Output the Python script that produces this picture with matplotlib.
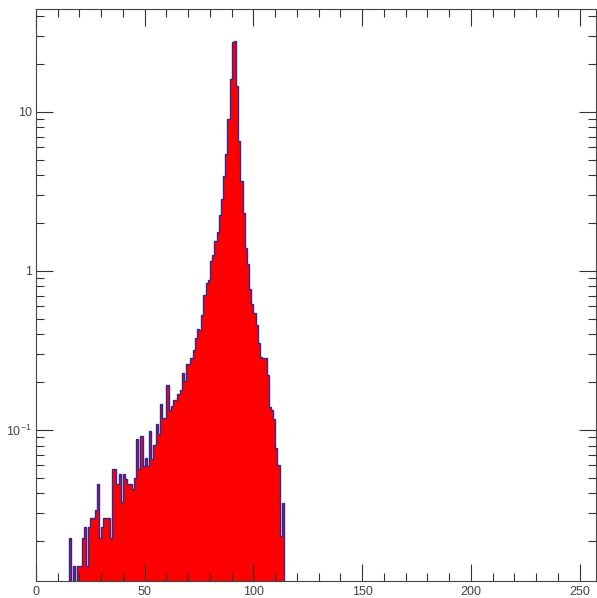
import numpy as np
import matplotlib
matplotlib.use("Agg")
import matplotlib.pyplot as plt
from matplotlib.ticker import MultipleLocator, FixedLocator, FixedFormatter, LogLocator, NullFormatter

plt.rcParams['font.family'] = ['Liberation Sans', 'DejaVu Sans']
plt.rcParams['mathtext.fontset'] = 'custom'
plt.rcParams['mathtext.rm'] = 'Liberation Sans'

# histogram: one bin per unit, first bin starts at 15
bin_start = 15
values = [
    0.021, 0, 0.014, 0, 0.014, 0.014, 0.021, 0.0245, 0.014, 0.0245,          # 15-24
    0.028, 0.028, 0.0317, 0.046, 0.021, 0.0247, 0.028, 0.028, 0.028, 0.021,   # 25-34
    0.0566, 0.0566, 0.0456, 0.0527, 0.0353, 0.0527, 0.0491, 0.0456, 0.0456, 0.0424,  # 35-44
    0.0497, 0.0883, 0.0566, 0.0917, 0.0594, 0.067, 0.0594, 0.0987, 0.0661, 0.0802,  # 45-54
    0.1086, 0.095, 0.147, 0.1197, 0.1197, 0.192, 0.133, 0.1416, 0.1545, 0.1545,    # 55-64
    0.168, 0.1786, 0.227, 0.203, 0.259, 0.259, 0.283, 0.32, 0.381, 0.434,          # 65-74
    0.424, 0.526, 0.706, 0.846, 0.878, 1.156, 1.255, 1.545, 1.758, 2.24,           # 75-84
    2.85, 3.96, 5.47, 9.0, 16.1, 27.3, 28.0, 14.5, 6.57, 3.68,                     # 85-94
    2.31, 1.40, 1.10, 0.767, 0.618, 0.548, 0.456, 0.351, 0.29, 0.285,              # 95-104
    0.285, 0.221, 0.140, 0.1336, 0.117, 0.0775, 0.06, 0.0216, 0.035,               # 105-113
]
edges = np.arange(bin_start, bin_start + len(values) + 1)

ytick_vals = [0.1, 1, 10]
ytick_labels = ['10$^{-1}$', '1', '10']

fig = plt.figure(figsize=(5.97, 5.98), dpi=100)
ax = fig.add_axes([36/597, 17/598, 560/597, 572/598])
ax.set_yscale('log')

v = np.array(values, dtype=float)
v_plot = np.where(v > 0, v, 1e-4)
ax.stairs(v_plot, edges, baseline=1e-4, fill=True, color='red', lw=0)
ax.stairs(v_plot, edges, baseline=1e-4, color='#2a2a9a', lw=1.0)

ax.set_xlim(0, 257.5)
ax.set_ylim(0.01127, 44.3)

ax.xaxis.set_major_locator(MultipleLocator(50))
ax.xaxis.set_minor_locator(MultipleLocator(10))
ax.yaxis.set_major_locator(FixedLocator(ytick_vals))
ax.yaxis.set_major_formatter(FixedFormatter(ytick_labels))
ax.yaxis.set_minor_locator(LogLocator(base=10, subs=np.arange(2, 10)))
ax.yaxis.set_minor_formatter(NullFormatter())

ax.tick_params(which='both', direction='in', top=True, right=True,
               color='#333333', labelcolor='#444444', labelsize=9)
ax.tick_params(which='major', length=12, width=0.8)
ax.tick_params(which='minor', length=6, width=0.8)
ax.tick_params(axis='y', pad=3)
for s in ax.spines.values():
    s.set_color('#444444')
    s.set_linewidth(0.8)

fig.savefig('out.png', dpi=100)
